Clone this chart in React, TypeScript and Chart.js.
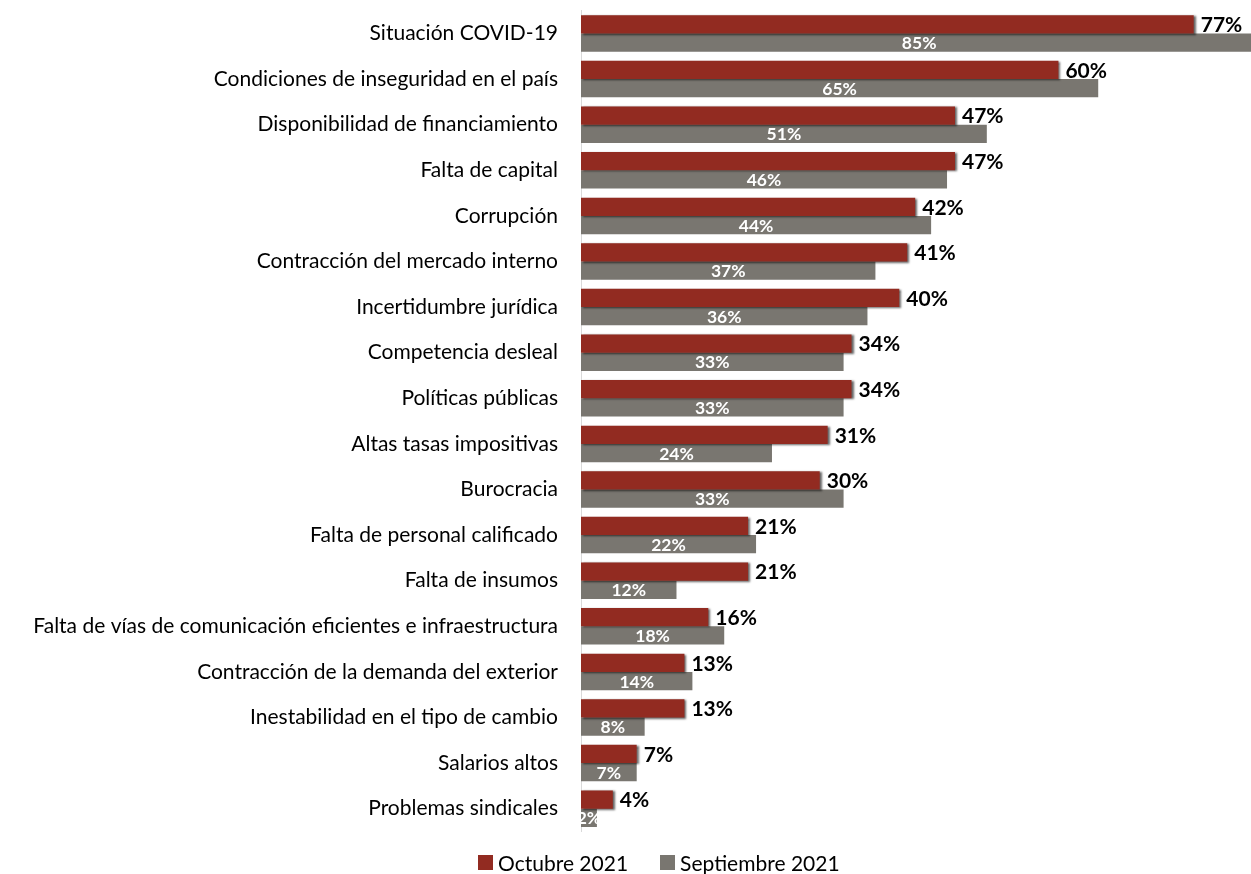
import React, { useEffect, useRef } from "react";
import { Chart, registerables } from "chart.js";

Chart.register(...registerables);

const categories = [
  "Situación COVID-19",
  "Condiciones de inseguridad en el país",
  "Disponibilidad de financiamiento",
  "Falta de capital",
  "Corrupción",
  "Contracción del mercado interno",
  "Incertidumbre jurídica",
  "Competencia desleal",
  "Políticas públicas",
  "Altas tasas impositivas",
  "Burocracia",
  "Falta de personal calificado",
  "Falta de insumos",
  "Falta de vías de comunicación eficientes e infraestructura",
  "Contracción de la demanda del exterior",
  "Inestabilidad en el tipo de cambio",
  "Salarios altos",
  "Problemas sindicales",
];

const octubre2021 = [77, 60, 47, 47, 42, 41, 40, 34, 34, 31, 30, 21, 21, 16, 13, 13, 7, 4];
const septiembre2021 = [85, 65, 51, 46, 44, 37, 36, 33, 33, 24, 33, 22, 12, 18, 14, 8, 7, 2];
const seriesNames = ["Octubre 2021", "Septiembre 2021"];

const RED = "#922B21";
const GRAY = "#797670";
const FONT = "Lato, 'Open Sans', sans-serif";

export default function App() {
  const ref = useRef<HTMLCanvasElement>(null);

  useEffect(() => {
    if (!ref.current) return;

    const shadowPlugin = {
      id: "redShadow",
      beforeDatasetDraw(chart: any, args: any) {
        if (args.index === 0) {
          const c = chart.ctx;
          c.save();
          c.shadowColor = "rgba(0,0,0,0.6)";
          c.shadowOffsetX = 2;
          c.shadowOffsetY = 1;
          c.shadowBlur = 2;
        }
      },
      afterDatasetDraw(chart: any, args: any) {
        if (args.index === 0) chart.ctx.restore();
      },
    };

    const labelPlugin = {
      id: "valueLabels",
      afterDatasetsDraw(chart: any) {
        const c = chart.ctx;
        const m0 = chart.getDatasetMeta(0);
        const m1 = chart.getDatasetMeta(1);
        c.save();
        c.textBaseline = "middle";
        c.font = `bold 21px ${FONT}`;
        c.fillStyle = "#000000";
        c.textAlign = "left";
        m0.data.forEach((bar: any, i: number) => {
          c.fillText(`${octubre2021[i]}%`, bar.x + 7, bar.y + 1);
        });
        c.font = `bold 17.5px ${FONT}`;
        c.fillStyle = "#FFFFFF";
        c.textAlign = "center";
        m1.data.forEach((bar: any, i: number) => {
          const x = (bar.base + bar.x) / 2;
          c.fillText(`${septiembre2021[i]}%`, x, bar.y + 1);
        });
        c.restore();
      },
    };

    const chart = new Chart(ref.current, {
      type: "bar",
      data: {
        labels: categories,
        datasets: [
          {
            label: seriesNames[0],
            data: octubre2021,
            backgroundColor: RED,
            categoryPercentage: 0.8,
            barPercentage: 1.0,
          },
          {
            label: seriesNames[1],
            data: septiembre2021,
            backgroundColor: GRAY,
            categoryPercentage: 0.8,
            barPercentage: 1.0,
          },
        ],
      },
      options: {
        indexAxis: "y",
        animation: false,
        responsive: true,
        maintainAspectRatio: false,
        layout: { padding: { top: 10.7, bottom: 42.5, left: 0, right: 0 } },
        plugins: {
          legend: { display: false },
          tooltip: { enabled: false },
        },
        scales: {
          x: {
            display: false,
            min: 0,
            max: 84.2,
          },
          y: {
            afterFit: (s: any) => {
              s.width = 581;
              s.paddingTop = 0;
              s.paddingBottom = 0;
            },
            grid: { display: false, drawTicks: false },
            border: { display: true, color: "#D9D9D9", width: 1 },
            ticks: {
              padding: 23,
              color: "#000000",
              font: { family: FONT, size: 21 },
            },
          },
        },
      },
      plugins: [shadowPlugin, labelPlugin],
    });

    return () => chart.destroy();
  }, []);

  const legendItem = (color: string, text: string) => (
    <div style={{ display: "flex", alignItems: "center" }}>
      <span
        style={{
          display: "inline-block",
          width: 15,
          height: 15,
          background: color,
          marginRight: 5,
        }}
      />
      <span>{text}</span>
    </div>
  );

  return (
    <div style={{ position: "fixed", left: 0, top: 0, width: 1251, height: 874, background: "#fff" }}>
      <canvas ref={ref} />
      <div
        style={{
          position: "absolute",
          left: 478,
          top: 849,
          height: 26,
          display: "flex",
          alignItems: "center",
          gap: 32,
          fontFamily: FONT,
          fontSize: 21,
          color: "#000",
          whiteSpace: "nowrap",
        }}
      >
        {legendItem(RED, seriesNames[0])}
        {legendItem(GRAY, seriesNames[1])}
      </div>
    </div>
  );
}
